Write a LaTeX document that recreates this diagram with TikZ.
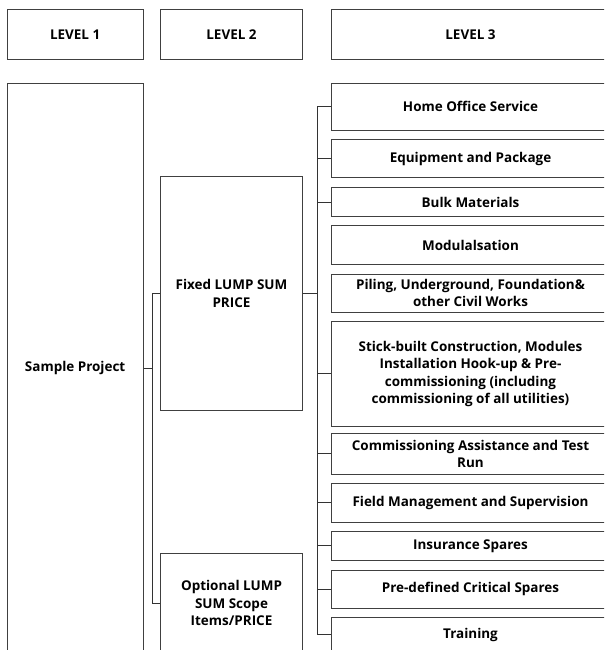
\documentclass[tikz,border=0pt]{standalone}
\usepackage{fontspec}
\setmainfont{Open Sans}
\begin{document}
\begin{tikzpicture}[x=0.75pt,y=-0.75pt,
    box/.style={draw=black!75,line width=0.75pt,rectangle,inner sep=0pt,align=center,
      font=\fontsize{10.1}{13}\selectfont\bfseries},
    lone/.style={box,minimum width=102.2pt,minimum height=0.75pt*#1},
    ltwo/.style={box,minimum width=106.2pt,minimum height=0.75pt*#1},
    lthree/.style={box,minimum width=208.2pt,minimum height=0.75pt*#1},
    link/.style={draw=black!80,line width=0.75pt}]
      \useasboundingbox (0,0) rectangle (604,650);
      \clip (0,0) rectangle (604,650);
      % headers
      \node[lone=50] (h1) at (75.15,34.3) {LEVEL 1};
      \node[ltwo=50] (h2) at (231.5,34.3) {LEVEL 2};
      \node[lthree=50] (h3) at (470.5,34.3) {LEVEL 3};
      % level 1 and 2
      \node[lone=570] (proj) at (75.15,368) {Sample Project};
      \node[ltwo=233.3] (fixed) at (231.5,293.35) {Fixed LUMP SUM\\PRICE};
      \node[ltwo=100] (opt) at (231.5,603) {Optional LUMP\\SUM Scope\\Items/PRICE};
      % level 3
      \node[lthree=47] (home) at (470.5,106.5) {Home Office Service};
      \node[lthree=38.4] (equip) at (470.5,158.5) {Equipment and Package};
      \node[lthree=29.4] (bulk) at (470.5,202) {Bulk Materials};
      \node[lthree=38.6] (modul) at (470.5,245) {Modulalsation};
      \node[lthree=38.3] (piling) at (470.5,293.2) {Piling, Underground, Foundation\&\\other Civil Works};
      \node[lthree=104.3] (stick) at (470.5,373.9) {Stick-built Construction, Modules\\Installation Hook-up \& Pre-\\commissioning (including\\commissioning of all utilities)};
      \node[lthree=40.7] (comm) at (470.5,453.7) {Commissioning Assistance and Test\\Run};
      \node[lthree=39] (field) at (470.5,502.8) {Field Management and Supervision};
      \node[lthree=28.3] (insur) at (470.5,545.9) {Insurance Spares};
      \node[lthree=38.3] (spares) at (470.5,589.2) {Pre-defined Critical Spares};
      \node[lthree=34.6] (train) at (470.5,634.9) {Training};
      % connectors
      \coordinate (join) at (152,368);
      \coordinate (trunk) at (317,0);
      \draw[link] (proj.east) -- (join);
      \draw[link] (fixed.west) -| (join |- opt.west) -- (opt.west);
      \draw[link] (fixed.east) -- (fixed.east -| trunk);
      \draw[link] (home.west) -| (trunk |- train.west) -- (train.west);
      \foreach \n in {equip,bulk,stick,comm,field,insur,spares}
        \draw[link] (\n.west -| trunk) -- (\n.west);
\end{tikzpicture}
\end{document}
